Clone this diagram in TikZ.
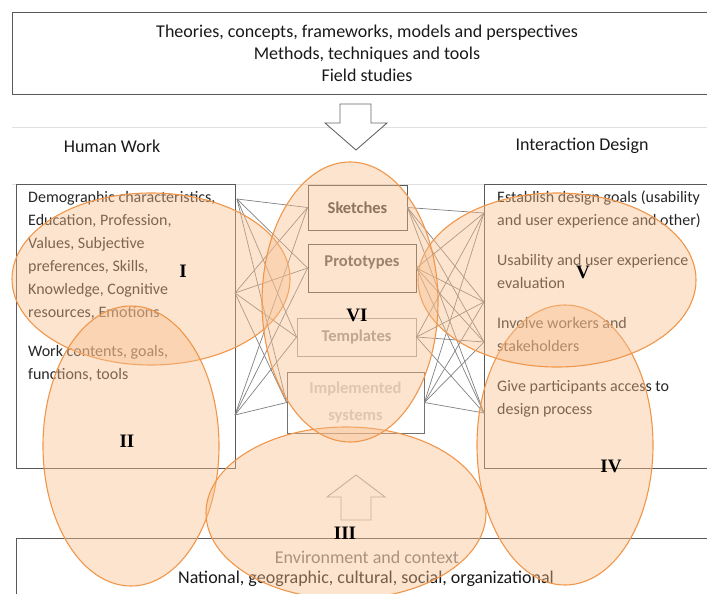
\documentclass[tikz,border=0pt]{standalone}
\usepackage{fontspec}
\setmainfont{Carlito}
\newfontfamily\romanfont{Liberation Serif}
\definecolor{zoneline}{RGB}{240,150,74}
\definecolor{zonefill}{RGB}{247,190,140}
\tikzset{
  box/.style={draw=black!65, line width=0.9pt, inner sep=0pt},
  conn/.style={draw=black!50, line width=0.7pt},
  zone/.style={draw=zoneline, line width=1.1pt, fill=zonefill, fill opacity=0.42},
  zonelabel/.style={font=\romanfont\bfseries\fontsize{19}{19}\selectfont},
  boxtext/.style={font=\fontsize{16}{23}\selectfont, text=black!85, align=left, inner sep=0pt},
  artefact/.style={box, font=\fontsize{16.5}{16}\selectfont\bfseries}
}
\begin{document}
\begin{tikzpicture}[x=1pt, y=-1pt]
  \useasboundingbox (0,0) rectangle (707,594);

  % frame at the top
  \node[box, minimum width=700, minimum height=82, anchor=north west] (theory) at (12,12) {};
  \node[font=\fontsize{18}{22}\selectfont, align=center, text=black!90] (theorytext) at (367,53)
    {Theories, concepts, frameworks, models and perspectives\\Methods, techniques and tools\\Field studies};

  \draw[black!12, line width=0.8pt] (12,127) -- (707,127);
  \draw[black!12, line width=0.8pt] (12,184) -- (707,184);

  \draw[black!60, line width=0.9pt, fill=white]
    (340,104) -- (371,104) -- (371,123) -- (387,123) -- (356,150) -- (325,123) -- (340,123) -- cycle;

  \node[font=\fontsize{18}{20}\selectfont, text=black!90] (hwhead) at (112,146) {Human Work};
  \node[font=\fontsize{18}{20}\selectfont, text=black!90] (idhead) at (582,146) {Interaction Design};

  % left and right boxes
  \node[box, minimum width=219, minimum height=284, anchor=north west] (hw) at (16,184) {};
  \node[boxtext, anchor=north west] (hwtext) at (28,191)
    {Demographic characteristics,\\Education, Profession,\\Values, Subjective\\preferences, Skills,\\Knowledge, Cognitive\\resources, Emotions\\[16pt]Work contents, goals,\\functions, tools};
  \node[box, minimum width=228, minimum height=284, anchor=north west] (id) at (484,184) {};
  \node[boxtext, anchor=north west] (idtext) at (497,191)
    {Establish design goals (usability\\and user experience and other)\\[17pt]Usability and user experience\\evaluation\\[17pt]Involve workers and\\stakeholders\\[17pt]Give participants access to\\design process};

  % artefacts in the middle
  \node[artefact, minimum width=99, minimum height=45, text=black!75] (sk) at (357.5,207.5) {Sketches};
  \node[artefact, minimum width=108, minimum height=48, text=black!65, text depth=14pt] (pr) at (362,268) {Prototypes};
  \node[artefact, draw=black!35, minimum width=119, minimum height=38, text=black!40] (te) at (356.5,337) {Templates};
  \node[artefact, draw=black!55, minimum width=137, minimum height=61, align=center, font=\fontsize{16.5}{27}\selectfont\bfseries, text=black!20] (im) at (355.5,402.5) {Implemented\\systems};

  \coordinate (l1) at (237,199);
  \coordinate (l2) at (235,293);
  \coordinate (l3) at (235,415);
  \coordinate (r1) at (484,213);
  \coordinate (r2) at (484,302);
  \coordinate (r3) at (484,342);
  \coordinate (r4) at (484,413);
  \foreach \l in {l1,l2,l3}
    \foreach \b in {sk,pr,te,im}
      \draw[conn] (\l) -- (\b.west);
  \foreach \b in {sk,pr,te,im}
    \foreach \r in {r1,r2,r3,r4}
      \draw[conn] (\b.east) -- (\r);

  % frame at the bottom
  \node[box, minimum width=696, minimum height=70, anchor=north west] (env) at (16,538) {};
  \node[font=\fontsize{18}{22}\selectfont, text=black!55] (envtext) at (367,557) {Environment and context};
  \node[font=\fontsize{18}{22}\selectfont, text=black!90] (levels) at (366,579) {National, geographic, cultural, social, organizational};

  \draw[black!35, line width=0.9pt, fill=white]
    (341,520) -- (371,520) -- (371,497) -- (385,497) -- (356,475) -- (327,497) -- (341,497) -- cycle;

  % the six zones
  \draw[zone] (151,279) ellipse [x radius=139, y radius=86];
  \draw[zone] (131,446) ellipse [x radius=88, y radius=140];
  \draw[zone] (346,513) ellipse [x radius=140, y radius=86];
  \draw[zone] (565,445) ellipse [x radius=88, y radius=140];
  \draw[zone] (557,280) ellipse [x radius=139, y radius=87];
  \draw[zone] (350,302) ellipse [x radius=88, y radius=140];

  \node[zonelabel] (z1) at (183,271) {I};
  \node[zonelabel] (z2) at (127,441) {II};
  \node[zonelabel] (z3) at (345,533) {III};
  \node[zonelabel] (z4) at (611,466) {IV};
  \node[zonelabel] (z5) at (583,272) {V};
  \node[zonelabel] (z6) at (357,315) {VI};
\end{tikzpicture}
\end{document}
